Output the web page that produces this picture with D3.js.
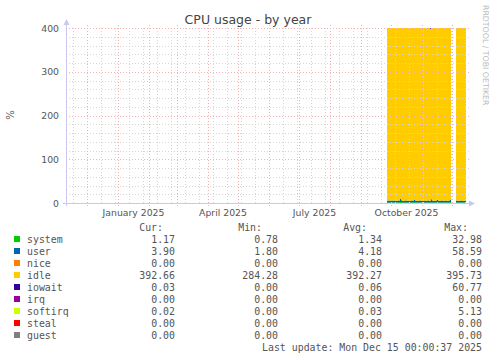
<!DOCTYPE html>
<html>
<head>
<meta charset="utf-8">
<script src="https://cdn.jsdelivr.net/npm/d3@7"></script>
<style>
  body { margin: 0; background: #fff; }
  svg text { font-family: "DejaVu Sans", sans-serif; fill: #555; }
  .mono { font-family: "DejaVu Sans Mono", monospace; font-size: 9.9px; }
</style>
</head>
<body>
<svg id="chart"></svg>
<script>
// graph window: 400 days ending at last update
var startDate = new Date(2024, 10, 10, 0, 0, 37);
var endDate = new Date(2025, 11, 15, 0, 0, 37);
var firstSample = new Date(2025, 8, 27);

// daily samples from Sep 27 2025 to Dec 14 2025 (Dec 1-4 missing)
var system = [
  1.3, 1.4, 1.2, 1.3, 1.5, 1.3, 1.2, 1.4, 1.3, 1.2,
  1.3, 1.4, 1.3, 2.2, 1.5, 1.3, 1.2, 1.3, 1.4, 1.3,
  1.2, 1.3, 1.3, 1.4, 1.2, 1.3, 1.3, 1.5, 1.3, 1.2,
  1.4, 1.3, 1.3, 1.2, 1.3, 1.4, 1.3, 1.3, 1.2, 1.3,
  1.4, 1.3, 1.2, 1.3, 1.9, 1.4, 1.3, 1.2, 1.3, 1.3,
  1.4, 1.2, 1.3, 1.3, 1.4, 1.3, 1.2, 1.3, 1.4, 1.3,
  1.3, 1.2, 1.4, 1.6, 2.6, null, null, null, null, 1.3,
  1.2, 1.3, 1.4, 1.3, 1.2, 1.3, 1.2, 1.2, 1.2
];
var user = [
  3.9, 4.1, 4.3, 3.8, 4.0, 4.2, 3.9, 4.4, 4.1, 3.8,
  4.0, 4.2, 4.5, 7.5, 4.6, 4.1, 3.9, 4.0, 4.2, 4.3,
  3.8, 4.1, 4.0, 3.9, 4.4, 4.2, 4.0, 5.1, 4.3, 4.0,
  3.9, 4.1, 4.2, 4.6, 4.0, 3.8, 4.1, 4.3, 4.0, 3.9,
  4.2, 4.4, 4.1, 4.0, 6.8, 4.5, 4.1, 3.9, 4.0, 4.2,
  5.2, 4.1, 4.0, 3.9, 4.3, 4.2, 4.0, 4.1, 4.4, 4.0,
  3.9, 4.2, 4.6, 5.5, 9.8, null, null, null, null, 4.3,
  4.1, 3.9, 4.0, 4.2, 4.4, 4.0, 3.9, 4.1, 3.9
];
var idle = [
  394.7, 394.4, 394.4, 394.8, 394.4, 394.4, 394.8, 394.1, 394.5, 394.9,
  394.6, 394.3, 392.6, 390.2, 393.8, 394.5, 394.8, 394.6, 392.8, 394.3,
  394.9, 394.5, 394.6, 394.6, 394.3, 394.4, 394.6, 393.3, 394.3, 394.7,
  394.6, 394.5, 394.4, 392.6, 394.6, 394.7, 394.5, 394.3, 394.7, 394.7,
  394.3, 394.2, 394.6, 393.2, 391.2, 394.0, 394.5, 394.8, 394.6, 394.4,
  393.3, 394.6, 394.6, 394.7, 394.2, 394.4, 394.7, 394.5, 394.1, 394.6,
  394.7, 394.5, 393.9, 392.8, 387.5, null, null, null, null, 394.3,
  394.6, 394.7, 394.5, 394.4, 394.3, 394.6, 394.8, 394.6, 392.66
];
var iowait = [
  0.05, 0.04, 0.06, 0.05, 0.04, 0.05, 0.06, 0.05, 0.04, 0.05,
  0.05, 0.06, 1.5, 0.1, 0.05, 0.04, 0.05, 0.06, 1.4, 0.05,
  0.04, 0.05, 0.06, 0.05, 0.04, 0.05, 0.06, 0.05, 0.04, 0.05,
  0.05, 0.06, 0.05, 1.8, 0.04, 0.05, 0.06, 0.05, 0.04, 0.05,
  0.05, 0.06, 0.05, 1.5, 0.05, 0.04, 0.05, 0.06, 0.05, 0.04,
  0.05, 0.06, 0.05, 0.04, 0.05, 0.06, 0.05, 0.04, 0.05, 0.06,
  0.05, 0.04, 0.05, 0.06, 0.1, null, null, null, null, 0.05,
  0.04, 0.05, 0.06, 0.05, 0.04, 0.05, 0.06, 0.05, 0.03
];
var softirq = [
  0.03, 0.03, 0.03, 0.03, 0.03, 0.03, 0.03, 0.03, 0.03, 0.03,
  0.03, 0.03, 0.03, 0.05, 0.03, 0.03, 0.03, 0.03, 0.03, 0.03,
  0.03, 0.03, 0.03, 0.03, 0.03, 0.03, 0.03, 0.03, 0.03, 0.03,
  0.03, 0.03, 0.03, 0.03, 0.03, 0.03, 0.03, 0.03, 0.03, 0.03,
  0.03, 0.03, 0.03, 0.03, 0.04, 0.03, 0.03, 0.03, 0.03, 0.03,
  0.03, 0.03, 0.03, 0.03, 0.03, 0.03, 0.03, 0.03, 0.03, 0.03,
  0.03, 0.03, 0.03, 0.03, 0.05, null, null, null, null, 0.03,
  0.03, 0.03, 0.03, 0.03, 0.03, 0.03, 0.03, 0.03, 0.02
];

var seriesNames = ["system", "user", "nice", "idle", "iowait", "irq", "softirq", "steal", "guest"];
var seriesColors = ["#00CC00", "#0066B3", "#FF8000", "#FFCC00", "#330099", "#990099", "#CCFF00", "#FF0000", "#808080"];
var seriesValues = { system: system, user: user, idle: idle, iowait: iowait, softirq: softirq };

var curValues = ["1.17", "3.90", "0.00", "392.66", "0.03", "0.00", "0.02", "0.00", "0.00"];
var minValues = ["0.78", "1.80", "0.00", "284.28", "0.00", "0.00", "0.00", "0.00", "0.00"];
var avgValues = ["1.34", "4.18", "0.00", "392.27", "0.06", "0.00", "0.03", "0.00", "0.00"];
var maxValues = ["32.98", "58.59", "0.00", "395.73", "60.77", "0.00", "5.13", "0.00", "0.00"];

var monthLabels = ["January 2025", "April 2025", "July 2025", "October 2025"];
var labelMonths = [new Date(2025, 0, 1), new Date(2025, 3, 1), new Date(2025, 6, 1), new Date(2025, 9, 1)];
var yTicks = [0, 100, 200, 300, 400];

var dimensions = {
  width: 497,
  height: 360,
  left: 66,
  right: 466,
  top: 28,
  bottom: 203,
};

var svg = d3.select("#chart")
  .attr("width", dimensions.width)
  .attr("height", dimensions.height);

var xScale = d3.scaleTime()
  .domain([startDate, endDate])
  .range([dimensions.left, dimensions.right]);

var yScale = d3.scaleLinear()
  .domain([0, 400])
  .range([dimensions.bottom, dimensions.top]);

// build rows for the stack
var days = d3.timeDay.range(firstSample, d3.timeDay.offset(firstSample, system.length));
var rows = days.map(function (d, i) {
  var row = { date: d, missing: system[i] == null };
  seriesNames.forEach(function (n) {
    row[n] = seriesValues[n] ? (seriesValues[n][i] || 0) : 0;
  });
  return row;
});
// last sample holds until the last update
var lastRow = Object.assign({}, rows[rows.length - 1], { date: endDate });
rows.push(lastRow);

var stacked = d3.stack().keys(seriesNames)(rows);

var area = d3.area()
  .curve(d3.curveStepAfter)
  .defined(function (d) { return !d.data.missing; })
  .x(function (d) { return xScale(d.data.date); })
  .y0(function (d) { return yScale(d[0]); })
  .y1(function (d) { return yScale(d[1]); });

svg.append("g")
  .selectAll("path")
  .data(stacked)
  .enter()
  .append("path")
  .attr("fill", function (d, i) { return seriesColors[i]; })
  .attr("d", area);

// grid (drawn over the areas, like rrdtool)
var grid = svg.append("g").attr("shape-rendering", "crispEdges");
var minorColor = "#d6d6d6";
var majorColor = "#f2b0b0";

var minorY = d3.range(0, 401, 20);
grid.selectAll(".hminor")
  .data(minorY.filter(function (v) { return v % 100 !== 0; }))
  .enter()
  .append("line")
  .attr("x1", dimensions.left).attr("x2", dimensions.right + 3)
  .attr("y1", function (d) { return Math.round(yScale(d)) + 0.5; })
  .attr("y2", function (d) { return Math.round(yScale(d)) + 0.5; })
  .attr("stroke", minorColor)
  .attr("stroke-dasharray", "1,2");

var sundays = d3.timeSunday.range(startDate, endDate).filter(function (d, i) { return i % 2 === 0; });
grid.selectAll(".vminor")
  .data(sundays)
  .enter()
  .append("line")
  .attr("x1", function (d) { return Math.round(xScale(d)) + 0.5; })
  .attr("x2", function (d) { return Math.round(xScale(d)) + 0.5; })
  .attr("y1", dimensions.top).attr("y2", dimensions.bottom)
  .attr("stroke", minorColor)
  .attr("stroke-dasharray", "1,2");

grid.selectAll(".hmajor")
  .data(yTicks.slice(1))
  .enter()
  .append("line")
  .attr("x1", dimensions.left).attr("x2", dimensions.right + 3)
  .attr("y1", function (d) { return Math.round(yScale(d)) + 0.5; })
  .attr("y2", function (d) { return Math.round(yScale(d)) + 0.5; })
  .attr("stroke", majorColor)
  .attr("stroke-dasharray", "1,2");

var months = d3.timeMonth.range(startDate, endDate);
grid.selectAll(".vmajor")
  .data(months)
  .enter()
  .append("line")
  .attr("x1", function (d) { return Math.round(xScale(d)) + 0.5; })
  .attr("x2", function (d) { return Math.round(xScale(d)) + 0.5; })
  .attr("y1", dimensions.top - 3).attr("y2", dimensions.bottom + 3)
  .attr("stroke", majorColor)
  .attr("stroke-dasharray", "1,2");

// axes
var axisColor = "#c8c8f0";
svg.append("line")
  .attr("x1", dimensions.left + 0.5).attr("x2", dimensions.left + 0.5)
  .attr("y1", dimensions.bottom + 3).attr("y2", dimensions.top - 6)
  .attr("stroke", axisColor);
svg.append("path")
  .attr("d", "M" + (dimensions.left - 2.5) + "," + (dimensions.top - 3) +
    " L" + (dimensions.left + 3.5) + "," + (dimensions.top - 3) +
    " L" + (dimensions.left + 0.5) + "," + (dimensions.top - 9) + " Z")
  .attr("fill", axisColor);
svg.append("line")
  .attr("x1", dimensions.left - 3).attr("x2", dimensions.right + 3)
  .attr("y1", dimensions.bottom + 0.5).attr("y2", dimensions.bottom + 0.5)
  .attr("stroke", axisColor);
svg.append("path")
  .attr("d", "M" + (dimensions.right + 3) + "," + (dimensions.bottom - 2.5) +
    " L" + (dimensions.right + 3) + "," + (dimensions.bottom + 3.5) +
    " L" + (dimensions.right + 9) + "," + (dimensions.bottom + 0.5) + " Z")
  .attr("fill", axisColor);

// y tick labels
svg.append("g")
  .selectAll("text")
  .data(yTicks)
  .enter()
  .append("text")
  .attr("x", 59)
  .attr("y", function (d) { return yScale(d) + 3.5; })
  .attr("text-anchor", "end")
  .style("font-size", "9.3px")
  .text(function (d) { return d; });

// x labels centred on their month
svg.append("g")
  .selectAll("text")
  .data(labelMonths)
  .enter()
  .append("text")
  .attr("x", function (d) {
    var next = d3.timeMonth.offset(d, 1);
    return (xScale(d) + xScale(next)) / 2;
  })
  .attr("y", 216)
  .attr("text-anchor", "middle")
  .style("font-size", "9.3px")
  .text(function (d, i) { return monthLabels[i]; });

// title and axis label
svg.append("text")
  .attr("x", 248)
  .attr("y", 24)
  .attr("text-anchor", "middle")
  .style("font-size", "12.5px")
  .style("fill", "#444")
  .text("CPU usage - by year");

svg.append("text")
  .attr("transform", "translate(14,115) rotate(-90)")
  .attr("text-anchor", "middle")
  .style("font-size", "10px")
  .text("%");

svg.append("text")
  .attr("transform", "translate(483,5) rotate(90)")
  .attr("text-anchor", "start")
  .style("font-size", "7.8px")
  .style("fill", "#bbb")
  .text("RRDTOOL / TOBI OETIKER");

// legend
var legend = svg.append("g").attr("class", "mono");
var headerX = [163, 262, 367, 468];
["Cur:", "Min:", "Avg:", "Max:"].forEach(function (h, i) {
  legend.append("text")
    .attr("class", "mono")
    .attr("x", headerX[i]).attr("y", 231)
    .attr("text-anchor", "end")
    .text(h);
});

var rowY = function (i) { return 243 + i * 12; };
var colX = [175, 278, 382, 482];
var cols = [curValues, minValues, avgValues, maxValues];

seriesNames.forEach(function (name, i) {
  legend.append("rect")
    .attr("x", 14).attr("y", rowY(i) - 7)
    .attr("width", 6).attr("height", 6)
    .attr("fill", seriesColors[i]);
  legend.append("text")
    .attr("class", "mono")
    .attr("x", 27).attr("y", rowY(i))
    .text(name);
  cols.forEach(function (col, j) {
    legend.append("text")
      .attr("class", "mono")
      .attr("x", colX[j]).attr("y", rowY(i))
      .attr("text-anchor", "end")
      .text(col[i]);
  });
});

legend.append("text")
  .attr("class", "mono")
  .attr("x", 482).attr("y", 351)
  .attr("text-anchor", "end")
  .text("Last update: Mon Dec 15 00:00:37 2025");
</script>
</body>
</html>
